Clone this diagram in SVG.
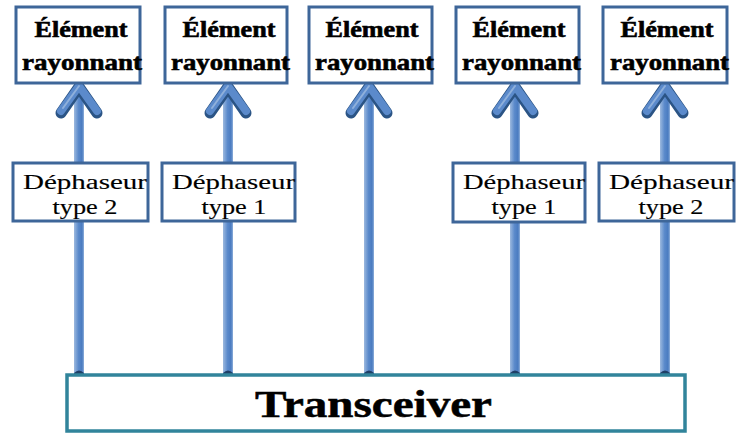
<svg xmlns="http://www.w3.org/2000/svg" width="736" height="435" viewBox="0 0 736 435">
<defs>
<linearGradient id="shaft" x1="0" y1="0" x2="1" y2="0">
<stop offset="0" stop-color="#9DB9DE"/>
<stop offset="0.2" stop-color="#7FA4D6"/>
<stop offset="0.45" stop-color="#5B8ACB"/>
<stop offset="0.8" stop-color="#4A7BC0"/>
<stop offset="1" stop-color="#8FB0DB"/>
</linearGradient>
<g id="arrow">
<rect x="-5" y="92" width="10" height="286" fill="url(#shaft)"/>
<path d="M-5,373 Q0,368 5,373 L5,378 L-5,378 Z" fill="#1F3F66"/>
<polyline points="-18,113 0,87 18,113" fill="none" stroke="#2B5485" stroke-width="11" stroke-linecap="round" stroke-linejoin="round"/>
<polyline points="-18,111 0,86 18,111" fill="none" stroke="#5B8ACB" stroke-width="8" stroke-linecap="round" stroke-linejoin="round"/>
<polyline points="-16,108 0,86" fill="none" stroke="#8FB0DB" stroke-width="2" stroke-linecap="round"/>
</g>
</defs>
<style>
.el{fill:#fff;stroke:#3E6699;stroke-width:3}
.ph{fill:#fff;stroke:#3E6699;stroke-width:3}
.tr{fill:#fff;stroke:#31849B;stroke-width:3.5}
.tb{font-family:"Liberation Serif","DejaVu Serif",serif;font-weight:bold;font-size:23px;fill:#000;stroke:#000;stroke-width:0.6}
.tp{font-family:"Liberation Serif","DejaVu Serif",serif;font-size:21px;fill:#000;stroke:#000;stroke-width:0.15}
.tt{font-family:"Liberation Serif","DejaVu Serif",serif;font-weight:bold;font-size:37px;fill:#000;stroke:#000;stroke-width:0.5}
</style>
<rect width="736" height="435" fill="#fff"/>
<g id="connectors">
<use href="#arrow" x="79"/>
<use href="#arrow" x="228"/>
<use href="#arrow" x="369"/>
<use href="#arrow" x="515"/>
<use href="#arrow" x="665"/>
</g>
<g id="el1"><rect class="el" x="16" y="7" width="124" height="76"/><text class="tb" x="81" y="37" text-anchor="middle" textLength="93" lengthAdjust="spacingAndGlyphs">Élément</text><text class="tb" x="22" y="70" textLength="120" lengthAdjust="spacingAndGlyphs">rayonnant</text></g>
<g id="el2"><rect class="el" x="165" y="7" width="122" height="76"/><text class="tb" x="229" y="37" text-anchor="middle" textLength="93" lengthAdjust="spacingAndGlyphs">Élément</text><text class="tb" x="171" y="70" textLength="119" lengthAdjust="spacingAndGlyphs">rayonnant</text></g>
<g id="el3"><rect class="el" x="309" y="7" width="123" height="76"/><text class="tb" x="372" y="37" text-anchor="middle" textLength="93" lengthAdjust="spacingAndGlyphs">Élément</text><text class="tb" x="315" y="70" textLength="119" lengthAdjust="spacingAndGlyphs">rayonnant</text></g>
<g id="el4"><rect class="el" x="456" y="7" width="123" height="76"/><text class="tb" x="519" y="37" text-anchor="middle" textLength="93" lengthAdjust="spacingAndGlyphs">Élément</text><text class="tb" x="462" y="70" textLength="119" lengthAdjust="spacingAndGlyphs">rayonnant</text></g>
<g id="el5"><rect class="el" x="603" y="7" width="124" height="76"/><text class="tb" x="667" y="37" text-anchor="middle" textLength="93" lengthAdjust="spacingAndGlyphs">Élément</text><text class="tb" x="610" y="70" textLength="119" lengthAdjust="spacingAndGlyphs">rayonnant</text></g>
<g id="ph1"><rect class="ph" x="13" y="163" width="135" height="58"/><text class="tp" x="23" y="189" textLength="124" lengthAdjust="spacingAndGlyphs">Déphaseur</text><text class="tp" x="85" y="214" text-anchor="middle" textLength="65" lengthAdjust="spacingAndGlyphs">type 2</text></g>
<g id="ph2"><rect class="ph" x="162" y="163" width="133" height="58"/><text class="tp" x="172" y="189" textLength="123" lengthAdjust="spacingAndGlyphs">Déphaseur</text><text class="tp" x="234" y="214" text-anchor="middle" textLength="65" lengthAdjust="spacingAndGlyphs">type 1</text></g>
<g id="ph4"><rect class="ph" x="453" y="163" width="132" height="59"/><text class="tp" x="463" y="189" textLength="122" lengthAdjust="spacingAndGlyphs">Déphaseur</text><text class="tp" x="524" y="214" text-anchor="middle" textLength="65" lengthAdjust="spacingAndGlyphs">type 1</text></g>
<g id="ph5"><rect class="ph" x="599" y="163" width="135" height="58"/><text class="tp" x="609" y="189" textLength="125" lengthAdjust="spacingAndGlyphs">Déphaseur</text><text class="tp" x="671" y="214" text-anchor="middle" textLength="65" lengthAdjust="spacingAndGlyphs">type 2</text></g>
<g id="transceiver"><rect class="tr" x="67" y="375" width="618" height="56"/><text class="tt" x="373.5" y="417" text-anchor="middle" textLength="237" lengthAdjust="spacingAndGlyphs">Transceiver</text></g>
</svg>
